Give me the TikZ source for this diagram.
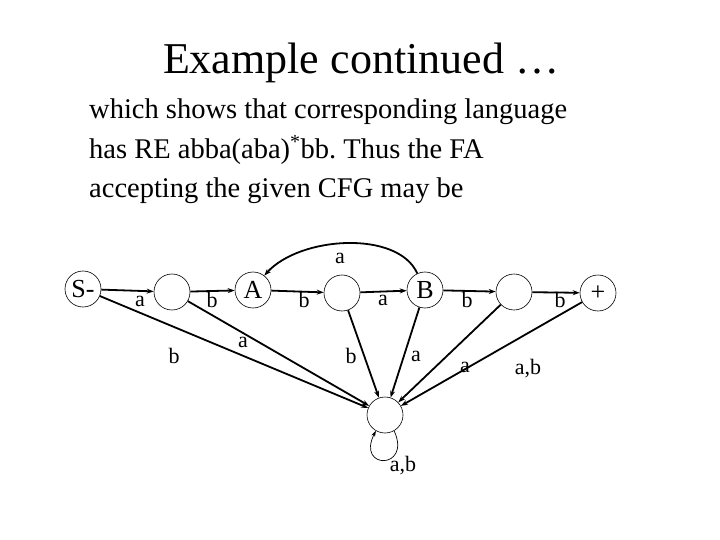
\documentclass[tikz,border=0pt]{standalone}
\usepackage{fontspec}
\setmainfont{Liberation Serif}
\usetikzlibrary{arrows.meta}
\frenchspacing
\begin{document}
\begin{tikzpicture}[x=1pt,y=-1pt,
  state/.style={circle,draw,line width=0.6pt,minimum size=36pt,inner sep=0pt,font=\fontsize{26}{26}\selectfont},
  tr/.style={line width=1.8pt,-{Stealth[length=7pt,width=5pt]}},
  lab/.style={font=\fontsize{22}{22}\selectfont,inner sep=0pt}]
\useasboundingbox (0,0) rectangle (720,540);
\node[anchor=base,font=\fontsize{44}{44}\selectfont,inner sep=0pt] (title) at (361,74) {Example continued \dots};
\node[anchor=base west,align=left,font=\fontsize{28.5}{39}\selectfont,inner sep=0pt] (body) at (89,197)
  {which shows that corresponding language\\has RE abba(aba)\textsuperscript{*}bb. Thus the FA\\accepting the given CFG may be};
\node[state] (S) at (83,289) {S-};
\node[state] (q1) at (172,292) {};
\node[state] (A) at (253,290) {A};
\node[state] (q3) at (342,293) {};
\node[state] (B) at (425,290) {B};
\node[state] (q5) at (514,292) {};
\node[state] (P) at (598,293) {+};
\node[state] (D) at (385,415) {};
\draw[tr] (S) -- (q1);
\draw[tr] (q1) -- (A);
\draw[tr] (A) -- (q3);
\draw[tr] (q3) -- (B);
\draw[tr] (B) -- (q5);
\draw[tr] (q5) -- (P);
\draw[tr] (B.115) .. controls (398,230) and (300,236) .. (A.52);
\draw[tr] (S) -- (D);
\draw[tr] (q1) -- (D);
\draw[tr] (q3) -- (D);
\draw[tr] (B) -- (D);
\draw[tr] (q5) -- (D);
\draw[tr] (P) -- (D);
\draw[line width=0.7pt,-{Stealth[length=6pt,width=4pt]}] (D.-60) .. controls (412,470) and (356,470) .. (D.-120);
\node[lab] (l1) at (140,301) {a};
\node[lab] (l2) at (212,300) {b};
\node[lab] (l3) at (304,300) {b};
\node[lab] (l4) at (383,300) {a};
\node[lab] (l5) at (467,300) {b};
\node[lab] (l6) at (560,300) {b};
\node[lab] (l7) at (340,258) {a};
\node[lab] (l8) at (174,356) {b};
\node[lab] (l9) at (243,342) {a};
\node[lab] (l10) at (351,356) {b};
\node[lab] (l11) at (416,356) {a};
\node[lab] (l12) at (465,367) {a};
\node[lab] (l13) at (528,369) {a,b};
\node[lab] (l14) at (403,466) {a,b};
\end{tikzpicture}
\end{document}
